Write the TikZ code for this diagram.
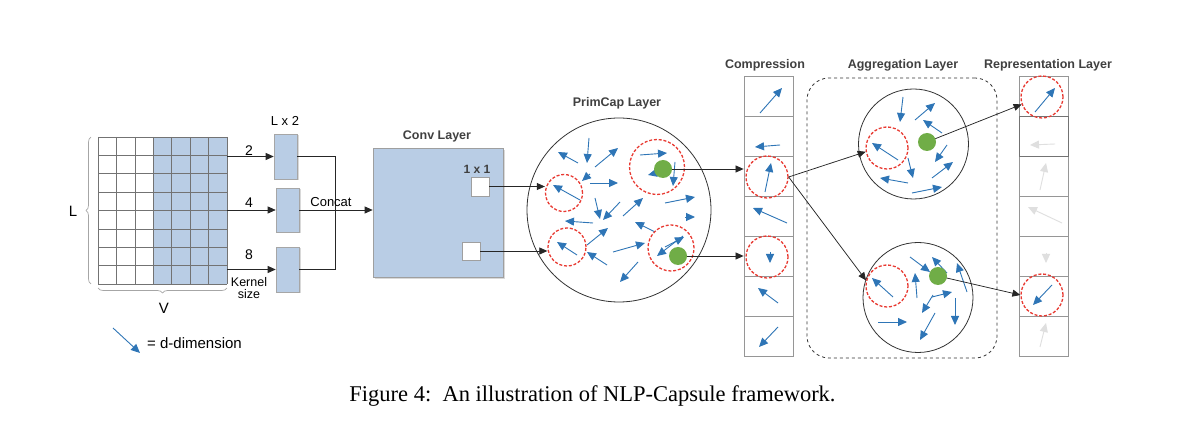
\documentclass[tikz,border=0pt]{standalone}
\usepackage{fontspec}
\setmainfont{Liberation Sans}
\newfontfamily\capfont{Liberation Serif}
\usetikzlibrary{arrows.meta,decorations.pathreplacing,shadows,calc}
\definecolor{capblue}{RGB}{46,117,182}
\definecolor{gridblue}{RGB}{185,205,229}
\definecolor{capred}{RGB}{232,58,50}
\definecolor{capgreen}{RGB}{112,173,71}
\definecolor{titlegray}{RGB}{64,64,64}
\definecolor{cellgray}{RGB}{150,150,150}
\begin{document}
\begin{tikzpicture}[x=1pt,y=-1pt,
  captitle/.style={font=\fontsize{12.5}{14}\selectfont\bfseries, text=titlegray, inner sep=0pt},
  caplbl/.style={font=\fontsize{13}{15}\selectfont, inner sep=0pt},
  conn/.style={draw=black!85, line width=0.75pt, -{Triangle[length=8pt,width=7pt]}},
  capplain/.style={draw=black!85, line width=0.75pt},
  barrow/.style={draw=capblue, line width=0.9pt, -{Triangle[length=9pt,width=8pt]}},
  grarrow/.style={draw=gray!25, line width=0.9pt, -{Triangle[length=9pt,width=8pt]}},
  capring/.style={circle, draw=capred, line width=1.3pt, dash pattern=on 3pt off 1.8pt, inner sep=0pt},
  capdot/.style={circle, fill=capgreen, minimum size=18pt, inner sep=0pt},
  capcell/.style={rectangle, draw=cellgray, line width=0.8pt, minimum width=49pt, minimum height=40pt, inner sep=0pt, fill=white},
  kbox/.style={rectangle, fill=gridblue, draw=gray!70, line width=0.6pt, minimum width=23pt, inner sep=0pt,
     drop shadow={shadow xshift=1.5pt, shadow yshift=-1.5pt, opacity=0.3}},
  bigcirc/.style={circle, draw=black!80, line width=0.8pt, inner sep=0pt},
  gridline/.style={draw=gray!90!black, line width=0.6pt}
]
\useasboundingbox (0,0) rectangle (1200,427);

% ---------- input grid ----------
\node[minimum width=129pt, minimum height=147pt, inner sep=0pt] (grid) at (162.5,210.5) {};
\fill[white] (98,137) rectangle (153.3,284);
\fill[gridblue] (153.3,137) rectangle (227,284);
\foreach \i in {0,...,7} \draw[gridline] ({98+\i*129/7},137) -- ++(0,147);
\foreach \j in {0,...,8} \draw[gridline] (98,{137+\j*147/8}) -- ++(129,0);
\draw[decorate, decoration={brace, amplitude=5pt}, gray!70, line width=0.7pt] (91,284) -- (91,137);
\draw[decorate, decoration={brace, amplitude=5pt}, gray!70, line width=0.7pt] (227,288) -- (98,288);
\node[font=\fontsize{15}{17}\selectfont, inner sep=0pt] (lL) at (73,211) {L};
\node[font=\fontsize{15}{17}\selectfont, inner sep=0pt] (lV) at (164,308) {V};

% ---------- kernel boxes ----------
\node[kbox, minimum height=45pt] (b1) at (285.5,156.5) {};
\node[kbox, minimum height=44pt] (b2) at (287.5,210) {};
\node[kbox, minimum height=45pt] (b3) at (287.5,269.5) {};
\node[caplbl] (lx2) at (285,121) {L x 2};
\draw[conn] (grid.east |- b1) -- (b1.west);
\draw[conn] (grid.east |- b2) -- (b2.west);
\draw[conn] (grid.east |- b3) -- (b3.west);
\node[font=\fontsize{14}{16}\selectfont, inner sep=0pt] (k2) at (249,151) {2};
\node[font=\fontsize{14}{16}\selectfont, inner sep=0pt] (k4) at (249,203) {4};
\node[font=\fontsize{14}{16}\selectfont, inner sep=0pt] (k8) at (249,255) {8};
\node[font=\fontsize{12.5}{12}\selectfont, inner sep=0pt, align=center] (ks) at (249,288) {Kernel\\size};

% ---------- conv layer ----------
\node[rectangle, fill=gridblue, draw=gray!75, line width=0.7pt, minimum width=130pt, minimum height=129pt,
  drop shadow={shadow xshift=2pt, shadow yshift=-2pt, opacity=0.3}] (conv) at (438,212.5) {};
\node[captitle] (tconv) at (437,136) {Conv Layer};
\draw[capplain] (b1.east) -- ++(38,0) |- (b3.east);
\draw[conn] (b2.east) -- (conv.west |- b2.east);
\node[caplbl] (lconcat) at (331,202) {Concat};
\node[rectangle, fill=white, draw=gray!75, line width=0.7pt, minimum width=18pt, minimum height=19pt, inner sep=0pt] (sq1) at (480,186.5) {};
\node[rectangle, fill=white, draw=gray!75, line width=0.7pt, minimum width=18pt, minimum height=18pt, inner sep=0pt] (sq2) at (471,251) {};
\node[font=\fontsize{12}{14}\selectfont\bfseries, text=titlegray, inner sep=0pt] (l11) at (477,169) {1 x 1};

% ---------- PrimCap layer ----------
\node[bigcirc, minimum size=184pt] (prim) at (619,210) {};
\node[captitle] (tprim) at (617,103) {PrimCap Layer};
\foreach \a/\b/\c/\d in {589/138/587/163, 578/163/558/152, 595/167/618/148, 590/183/618/183, 590/174/582/181,
  580/200/553/185, 595/198/600/219, 620/202/603/220, 623/216/643/198, 593/223/565/221, 587/245/608/228,
  577/255/557/242, 607/265/587/252, 613/252/645/243, 638/262/620/282, 655/232/635/222, 665/203/695/197,
  685/217/695/217, 640/155/667/153, 660/172/648/175, 675/162/673/186, 683/236/657/256, 665/247/684/237}
  \draw[barrow] (\a,\b) -- (\c,\d);
\node[capring, minimum size=37pt] (rA) at (564,193) {};
\node[capring, minimum size=55pt] (rB) at (657,167) {};
\node[capring, minimum size=38pt] (rC) at (567,247) {};
\node[capring, minimum size=46pt] (rD) at (671,248) {};
\draw[conn] (sq1.east) -- (sq1.east -| rA.west);
\draw[conn] (sq2.east) -- (sq2.east -| rC.west);

% ---------- compression ----------
\foreach \i in {1,...,7} \node[capcell] (cell\i) at (768.5,{96+40*(\i-1)}) {};
\node[captitle] (tcomp) at (765,65) {Compression};
\foreach \a/\b/\c/\d in {760/113/782/88, 780/145/755/147, 765/192/771/163, 787/223/753/208, 770/252/770/263,
  778/303/758/288, 778/327/759/347}
  \draw[barrow] (\a,\b) -- (\c,\d);
\node[capring, minimum size=42pt] (cc3) at (767,177) {};
\node[capring, minimum size=42pt] (cc5) at (767,257) {};

% green dots of PrimCap and their connectors
\coordinate (pB) at (663,169);
\coordinate (pD) at (678,256);
\draw[conn] (pB) -- (pB -| cell3.west);
\draw[conn] (pD) -- (pD -| cell5.west);
\node[capdot] (gB) at (pB) {};
\node[capdot] (gD) at (pD) {};

% ---------- aggregation ----------
\node[draw=black!80, dashed, line width=0.8pt, rounded corners=22pt, minimum width=190pt, minimum height=280pt, inner sep=0pt] (agg) at (902,218) {};
\node[captitle] (tagg) at (903,65) {Aggregation Layer};
\node[bigcirc, minimum size=110pt] (aggA) at (913.5,144) {};
\node[bigcirc, minimum size=110pt] (aggB) at (918,297.5) {};
\foreach \a/\b/\c/\d in {903/97/900/122, 915/120/935/103, 942/133/923/120, 898/160/872/143, 908/158/913/178,
  947/145/935/162, 932/178/953/162, 908/183/880/178, 912/193/942/187,
  910/257/930/272, 947/273/932/257, 967/292/957/263, 893/297/872/278, 917/298/915/273, 932/297/952/292,
  933/295/922/313, 955/298/955/325, 878/322/907/322, 935/313/920/340}
  \draw[barrow] (\a,\b) -- (\c,\d);
\node[capring, minimum size=42pt] (ra) at (887,148) {};
\node[capring, minimum size=42pt] (rb) at (887,286) {};
\draw[conn] (cc3.east) -- (ra.190);
\draw[conn] (cc3.east) -- (rb.165);

% ---------- representation ----------
\foreach \i in {1,...,7} \node[capcell] (rc\i) at (1043.5,{96+40*(\i-1)}) {};
\node[capcell, draw=black!55] at (rc2) {};
\node[captitle] (trep) at (1048,65) {Representation Layer};
\foreach \a/\b/\c/\d in {1055/144/1030/145, 1040/190/1046/163, 1062/223/1028/207, 1046/253/1046/263, 1040/347/1046/323}
  \draw[grarrow] (\a,\b) -- (\c,\d);
\foreach \a/\b/\c/\d in {1035/112/1055/88, 1052/285/1033/305}
  \draw[barrow] (\a,\b) -- (\c,\d);
\node[capring, minimum size=42pt] (rr1) at (1042,97) {};
\node[capring, minimum size=42pt] (rr6) at (1042,295) {};

\coordinate (pA) at (927,142);
\coordinate (pC) at (938,276);
\draw[conn] (pA) -- (rr1.200);
\draw[conn] (pC) -- (rr6.west);
\node[capdot] (gA) at (pA) {};
\node[capdot] (gC) at (pC) {};

% ---------- legend ----------
\coordinate (lg1) at (113,328);
\coordinate (lg2) at (140,353);
\draw[barrow] (lg1) -- (lg2);
\node[font=\fontsize{15}{17}\selectfont, inner sep=0pt, anchor=west] (ld) at (147,343) {= d-dimension};

% ---------- caption ----------
\node[font=\capfont\fontsize{22.5}{26}\selectfont, inner sep=0pt, anchor=base] (cap) at (592.5,402) {Figure 4:\enspace An illustration of NLP-Capsule framework.};
\end{tikzpicture}
\end{document}
